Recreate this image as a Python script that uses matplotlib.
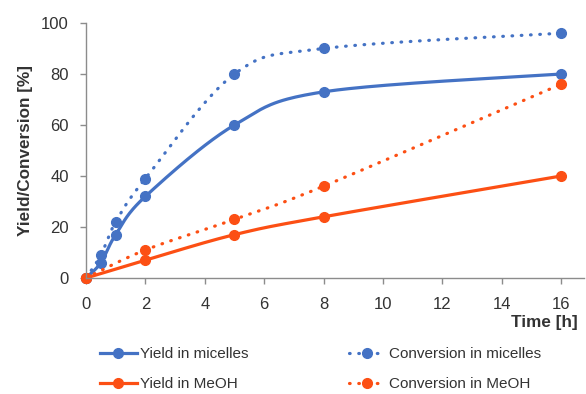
import numpy as np
import matplotlib
matplotlib.use("Agg")
import matplotlib.pyplot as plt
from matplotlib.lines import Line2D

plt.rcParams['font.family'] = ['Liberation Sans', 'DejaVu Sans']

# Reaction time points [h]
t_micelles = [0, 0.5, 1, 2, 5, 8, 16]
t_meoh = [0, 2, 5, 8, 16]

# Yield / conversion [%]
yield_micelles = [0, 6, 17, 32, 60, 73, 80]
conv_micelles = [0, 9, 22, 39, 80, 90, 96]
yield_meoh = [0, 7, 17, 24, 40]
conv_meoh = [0, 11, 23, 36, 76]

x_ticks = [0, 2, 4, 6, 8, 10, 12, 14, 16]
y_ticks = [0, 20, 40, 60, 80, 100]

BLUE = '#4472C4'
ORANGE = '#FC4F14'
GRAY = '#8C8C8C'
TXT = '#333333'

W, H = 586, 394
fig = plt.figure(figsize=(W / 100, H / 100), dpi=100)
left, right, top, bottom = 86, 584, 23, 278
ax = fig.add_axes([left / W, 1 - bottom / H, (right - left) / W, (bottom - top) / H])
ax.set_xlim(0, 16.77)
ax.set_ylim(0, 100)


def smooth_curve(ax, x, y, n=40):
    """Cubic Bezier spline through the points (Catmull-Rom style), in screen space."""
    pts = ax.transData.transform(np.column_stack([x, y]))
    P = np.vstack([pts[0], pts, pts[-1]])
    segs = []
    for i in range(len(pts) - 1):
        p0, p1, p2, p3 = P[i], P[i + 1], P[i + 2], P[i + 3]
        c1 = p1 + (p2 - p0) / 6.0
        c2 = p2 - (p3 - p1) / 6.0
        s = np.linspace(0, 1, n)[:, None]
        seg = (1 - s) ** 3 * p1 + 3 * (1 - s) ** 2 * s * c1 + 3 * (1 - s) * s ** 2 * c2 + s ** 3 * p2
        segs.append(seg if i == 0 else seg[1:])
    return ax.transData.inverted().transform(np.vstack(segs))


LW = 2.3
MS = 7
DOT = (0, (0.2, 2.7))

series = [
    (t_micelles, yield_micelles, BLUE, '-', 'Yield in micelles'),
    (t_micelles, conv_micelles, BLUE, DOT, 'Conversion in micelles'),
    (t_meoh, yield_meoh, ORANGE, '-', 'Yield in MeOH'),
    (t_meoh, conv_meoh, ORANGE, DOT, 'Conversion in MeOH'),
]

handles = {}
for x, y, c, ls, lab in series:
    curve = smooth_curve(ax, x, y)
    ax.plot(curve[:, 0], curve[:, 1], color=c, lw=LW, ls=ls,
            dash_capstyle='round', solid_capstyle='round', clip_on=False)
    ax.plot(x, y, ls='none', marker='o', ms=MS, color=c, clip_on=False)
    handles[lab] = Line2D([0, 0.5, 1], [0, 0, 0], color=c, lw=LW, ls=ls, marker='o',
                          ms=MS, markevery=[1], dash_capstyle='round')

ax.set_xticks(x_ticks)
ax.set_yticks(y_ticks)
ax.spines['top'].set_visible(False)
ax.spines['right'].set_visible(False)
for s in ('left', 'bottom'):
    ax.spines[s].set_color(GRAY)
    ax.spines[s].set_linewidth(1.0)
ax.tick_params(axis='both', direction='out', length=4.5, width=1.0, color=GRAY,
               labelsize=12, labelcolor=TXT)
ax.tick_params(axis='x', pad=9)
ax.tick_params(axis='y', pad=8)

ax.set_ylabel('Yield/Conversion [%]', fontsize=12.3, fontweight='bold', color=TXT, labelpad=6)
fig.text(578 / W, 1 - 322 / H, 'Time [h]', ha='right', va='center',
         fontsize=12.3, fontweight='bold', color=TXT)

# Legend: two rows, two columns under the plot
col1 = ['Yield in micelles', 'Yield in MeOH']
col2 = ['Conversion in micelles', 'Conversion in MeOH']
for labs, x0 in ((col1, 100), (col2, 349)):
    fig.legend([handles[l] for l in labs], labs, loc='upper left',
               bbox_to_anchor=(x0 / W, 1 - 347 / H), frameon=False,
               fontsize=11, labelcolor=TXT, handlelength=2.4, handletextpad=0.2,
               labelspacing=1.05, borderaxespad=0, borderpad=0)

fig.savefig('out.png', dpi=100)
